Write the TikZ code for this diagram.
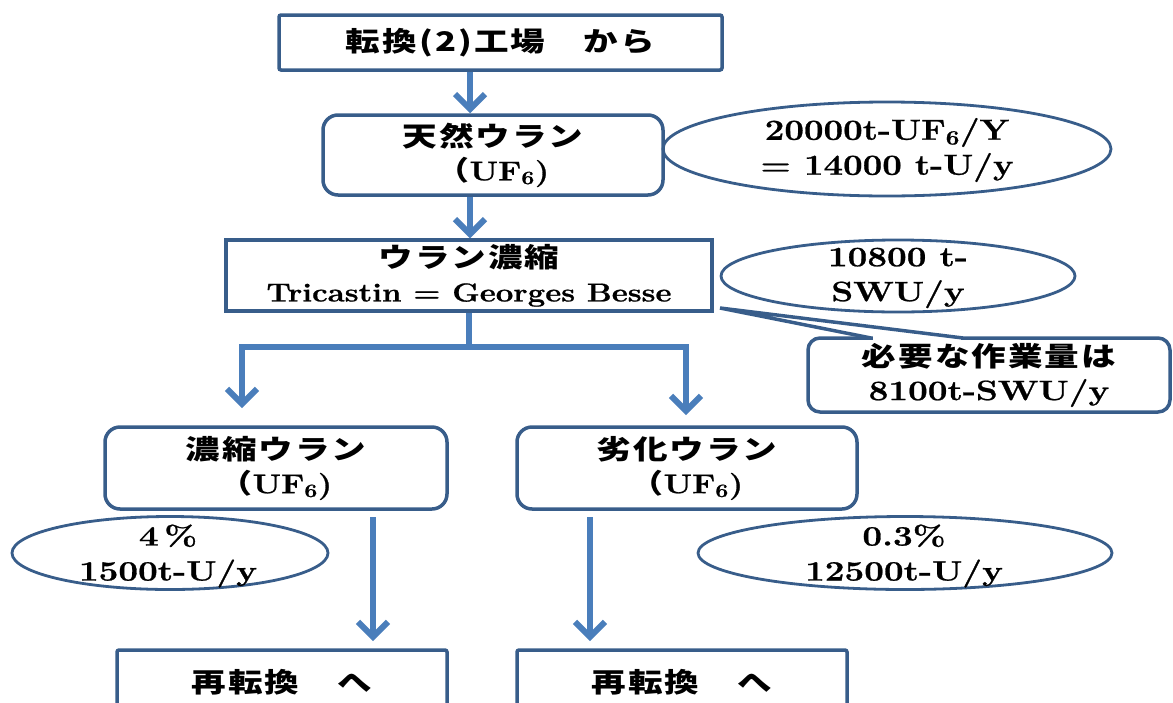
\documentclass[tikz,border=0pt]{standalone}
\usepackage{fontspec}
\usepackage{graphicx}
\usetikzlibrary{arrows.meta,shapes.geometric}
\setmainfont{Latin Modern Roman}[BoldFeatures={FakeBold=0.8}]
\newfontfamily\jp{Noto Sans CJK JP}[LetterSpace=6]
\definecolor{boxblue}{RGB}{56,93,138}
\definecolor{arrowblue}{RGB}{74,126,187}
% wide-set text, as in the flow chart
\newcommand\sx[1]{\scalebox{1.28}[1]{#1}}
\newcommand\jt[1]{\sx{\jp\bfseries\fontsize{27}{34}\selectfont #1}}
\newcommand\lt[2][1.25]{\scalebox{#1}[1]{\bfseries #2}}
\newcommand\uf{\scalebox{1.22}[1]{{\jp\bfseries\fontsize{27}{34}\selectfont （}{\bfseries\fontsize{27}{34}\selectfont UF\textsubscript{6})}}}
\begin{document}
\begin{tikzpicture}[x=1pt,y=-1pt,
  outline/.style={draw=boxblue, line width=3.5pt},
  sqbox/.style={outline, rectangle, rounded corners=2pt, inner sep=0pt, align=center},
  rbox/.style={outline, rectangle, rounded corners=15pt, inner sep=0pt, align=center},
  oval/.style={draw=boxblue, line width=2.8pt, ellipse, inner sep=0pt},
  arr/.style={draw=arrowblue, line width=6pt, -{Straight Barb[length=15pt,width=30pt]}},
  link/.style={draw=arrowblue, line width=6pt},
  lbl/.style={align=center, inner sep=0pt, font=\fontsize{28}{35}\selectfont},
  every node/.style={font=\fontsize{26}{34}\selectfont}]
\useasboundingbox (0,0) rectangle (1173,702);
\clip (0,0) rectangle (1173,702);

% main flow boxes
\node[sqbox, minimum width=443pt, minimum height=55pt] (conv) at (500.5,42.5) {\jt{転換(2)工場　から}};
\node[rbox, minimum width=340pt, minimum height=80pt] (nat) at (493,155) {\jt{天然ウラン}\\\uf};
\node[sqbox, rounded corners=0pt, minimum width=486pt, minimum height=71pt] (enr) at (469,275.5) {\jt{ウラン濃縮}\\\lt[1.2]{Tricastin = Georges Besse}};
\node[rbox, minimum width=342pt, minimum height=82pt] (heu) at (276,468) {\jt{濃縮ウラン}\\\uf};
\node[rbox, minimum width=340pt, minimum height=82pt] (dep) at (687,468) {\jt{劣化ウラン}\\\uf};
\node[sqbox, minimum width=330pt, minimum height=64pt] (rc1) at (282,682) {\jt{再転換　へ}};
\node[sqbox, minimum width=330pt, minimum height=64pt] (rc2) at (682,682) {\jt{再転換　へ}};

% quantity ovals
\node[oval, minimum width=448pt, minimum height=94pt] (e1) at (887,149) {};
\node[lbl, font=\fontsize{29}{35}\selectfont] (t1) at (887,150) {\lt[1.2]{20000t-UF\textsubscript{6}/Y}\\\lt[1.2]{= 14000 t-U/y}};
\node[oval, minimum width=354pt, minimum height=72pt] (e2) at (898,276) {};
\node[lbl] (t2) at (898,278) {\lt{10800 t-}\\\lt{SWU/y}};
\node[oval, minimum width=316pt, minimum height=73pt] (e3) at (170,553) {};
\node[lbl] (t3) at (168,556) {\lt{4\,\%}\\\lt{1500t-U/y}};
\node[oval, minimum width=414pt, minimum height=73pt] (e4) at (905,553) {};
\node[lbl] (t4) at (904,556) {\lt{0.3\%}\\\lt{12500t-U/y}};

% callout with the required separative work
\node[rbox, rounded corners=12pt, minimum width=362pt, minimum height=74pt] (need) at (989,375) {\jt{必要な作業量は}\\\lt{\fontsize{28}{35}\selectfont 8100t-SWU/y}};
\coordinate (pa) at (871,338);
\coordinate (pt) at (720,308);
\coordinate (pb) at (963,338);
\fill[white] (873,333) rectangle (961,343);
\draw[outline, line join=miter] (pa) -- (pt) -- (pb);

% connectors
\coordinate (ax) at (470,0);
\draw[arr] (conv.south -| ax) -- (nat.north -| ax);
\draw[arr] (nat.south -| ax) -- (enr.north -| ax);
\coordinate (jn) at (469,347);
\coordinate (lj) at (242,347);
\coordinate (rj) at (686,347);
\coordinate (le) at (242,408);
\coordinate (re) at (686,415);
\draw[link] (enr.south) -- (jn);
\draw[arr] (jn) -- (lj) -- (le);
\draw[arr] (jn) -- (rj) -- (re);
\coordinate (ls) at (373,517);
\coordinate (lt) at (373,641);
\coordinate (rs) at (590,517);
\coordinate (rt) at (590,641);
\draw[arr] (ls) -- (lt);
\draw[arr] (rs) -- (rt);
\end{tikzpicture}
\end{document}
